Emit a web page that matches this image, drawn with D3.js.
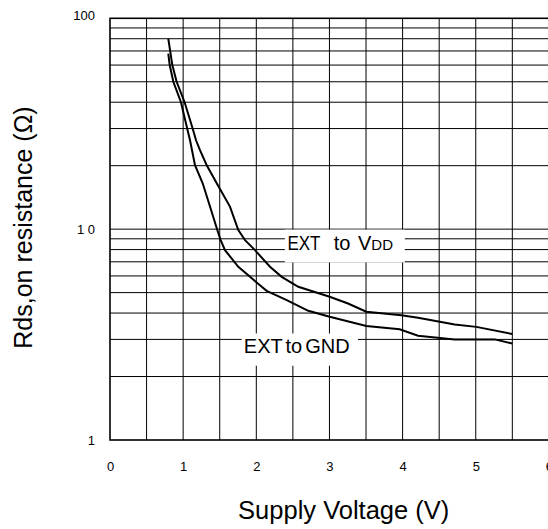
<!DOCTYPE html>
<html>
<head>
<meta charset="utf-8">
<script src="https://cdn.jsdelivr.net/npm/d3@7"></script>
<style>
  html, body { margin: 0; padding: 0; background: #fff; }
  svg { display: block; font-family: Arial, "Liberation Sans", sans-serif; }
</style>
</head>
<body>
<svg id="chart" width="548" height="529"></svg>
<script>
// ---- data ----
const xTicks = [0, 1, 2, 3, 4, 5, 6];
const xTickLabels = ["0", "1", "2", "3", "4", "5", "6"];
const yTicks = [1, 10, 100];
const yTickLabels = ["1", "1 0", "100"];

const vddVolts = [0.797, 0.852, 0.911, 1.02, 1.13, 1.176, 1.23, 1.322, 1.459, 1.64, 1.754, 1.846, 1.982, 2.187, 2.347, 2.574, 3.003, 3.254, 3.504, 3.982, 4.211, 4.712, 5.007, 5.5];
const vddRds   = [80, 60, 50, 40, 30, 26.4, 23.7, 20.1, 16.5, 12.8, 9.9, 8.87, 7.95, 6.63, 5.94, 5.33, 4.78, 4.44, 4.06, 3.91, 3.80, 3.53, 3.44, 3.18];

const gndVolts = [0.797, 0.816, 0.866, 0.97, 1.055, 1.094, 1.162, 1.267, 1.367, 1.467, 1.513, 1.572, 1.754, 1.914, 2.074, 2.142, 2.416, 2.711, 3.003, 3.504, 3.960, 4.211, 4.712, 5.259, 5.5];
const gndRds   = [68, 60, 50, 40, 30, 26.4, 20.1, 16.5, 12.8, 9.9, 8.87, 7.95, 6.63, 5.94, 5.33, 5.10, 4.61, 4.10, 3.84, 3.47, 3.35, 3.12, 3.00, 3.00, 2.87];

const vddLabelParts = ["EXT", "to", "V", "DD"];
const gndLabel = "EXT to GND";
const xTitle = "Supply Voltage (V)";
const yTitle = "Rds,on resistance (\u03A9)";

// ---- layout ----
const mLeft = 110, mTop = 18.3, mRight = 548.9, mBottom = 440;
const x = d3.scaleLinear().domain([0, 6]).range([mLeft, mRight]);
const y = d3.scaleLog().domain([1, 100]).range([mBottom, mTop]);

const svg = d3.select("#chart");

// grid
const hVals = [];
for (let d = 1; d <= 10; d *= 10) for (let k = 2; k <= 9; k++) hVals.push(k * d);
hVals.push(10);
const vVals = d3.range(0.5, 6.01, 0.5);

const grid = svg.append("g").attr("stroke", "#000").attr("stroke-width", 1).attr("fill", "none");
grid.selectAll("line.h").data(hVals).join("line").attr("class", "h")
  .attr("x1", mLeft).attr("x2", mRight).attr("y1", d => y(d)).attr("y2", d => y(d));
grid.selectAll("line.v").data(vVals).join("line").attr("class", "v")
  .attr("x1", d => x(d)).attr("x2", d => x(d)).attr("y1", mTop).attr("y2", mBottom);

// frame
svg.append("rect").attr("x", mLeft).attr("y", mTop).attr("width", mRight - mLeft).attr("height", mBottom - mTop)
  .attr("fill", "none").attr("stroke", "#000").attr("stroke-width", 1.6);

// tick labels via d3 axes (no lines)
const xAxis = svg.append("g").attr("transform", `translate(0,${mBottom})`)
  .call(d3.axisBottom(x).tickValues(xTicks).tickFormat((d, i) => xTickLabels[i]).tickSize(0).tickPadding(22));
xAxis.select(".domain").remove();
xAxis.selectAll("text").attr("font-size", 13).attr("font-family", "Arial, 'Liberation Sans', sans-serif").attr("fill", "#000");

const yAxis = svg.append("g").attr("transform", `translate(95,0)`)
  .call(d3.axisLeft(y).tickValues(yTicks).tickFormat((d, i) => yTickLabels[i]).tickSize(0).tickPadding(0));
yAxis.select(".domain").remove();
yAxis.selectAll("text").attr("font-size", 13).attr("font-family", "Arial, 'Liberation Sans', sans-serif").attr("fill", "#000")
  .style("white-space", "pre");
yAxis.selectAll(".tick").filter(d => d === 100).select("text").attr("dy", "0.1em");

// label boxes
svg.append("rect").attr("x", x(2.39)).attr("y", y(9.95)).attr("width", x(4.03) - x(2.39)).attr("height", y(6.95) - y(9.95)).attr("fill", "#fff");
svg.append("rect").attr("x", x(1.8)).attr("y", y(3.2)).attr("width", x(3.39) - x(1.8)).attr("height", y(2.25) - y(3.2)).attr("fill", "#fff");

// curves
const line = d3.line().x(d => x(d[0])).y(d => y(d[1]));
const vddData = vddVolts.map((v, i) => [v, vddRds[i]]);
const gndData = gndVolts.map((v, i) => [v, gndRds[i]]);
svg.append("path").datum(vddData).attr("d", line).attr("fill", "none").attr("stroke", "#000").attr("stroke-width", 2);
svg.append("path").datum(gndData).attr("d", line).attr("fill", "none").attr("stroke", "#000").attr("stroke-width", 2);

// series labels
const t1 = svg.append("text").attr("x", x(2.425)).attr("y", 250).attr("font-size", 20).attr("fill", "#000");
t1.append("tspan").attr("textLength", 33).attr("lengthAdjust", "spacingAndGlyphs").text(vddLabelParts[0]);
t1.append("tspan").attr("dx", 13.4).text(vddLabelParts[1]);
t1.append("tspan").attr("dx", 7.5).text(vddLabelParts[2]);
t1.append("tspan").attr("font-size", 15).text(vddLabelParts[3]);
svg.append("text").attr("x", x(1.83)).attr("y", 353.3).attr("font-size", 20).attr("fill", "#000")
  .attr("word-spacing", -2.5).text(gndLabel);

// axis titles
svg.append("text").attr("x", 343.7).attr("y", 518.5).attr("text-anchor", "middle").attr("font-size", 25.5).attr("fill", "#000").text(xTitle);
svg.append("text").attr("transform", "translate(32,227.5) rotate(-90)").attr("text-anchor", "middle").attr("font-size", 25).attr("fill", "#000").text(yTitle);
</script>
</body>
</html>
